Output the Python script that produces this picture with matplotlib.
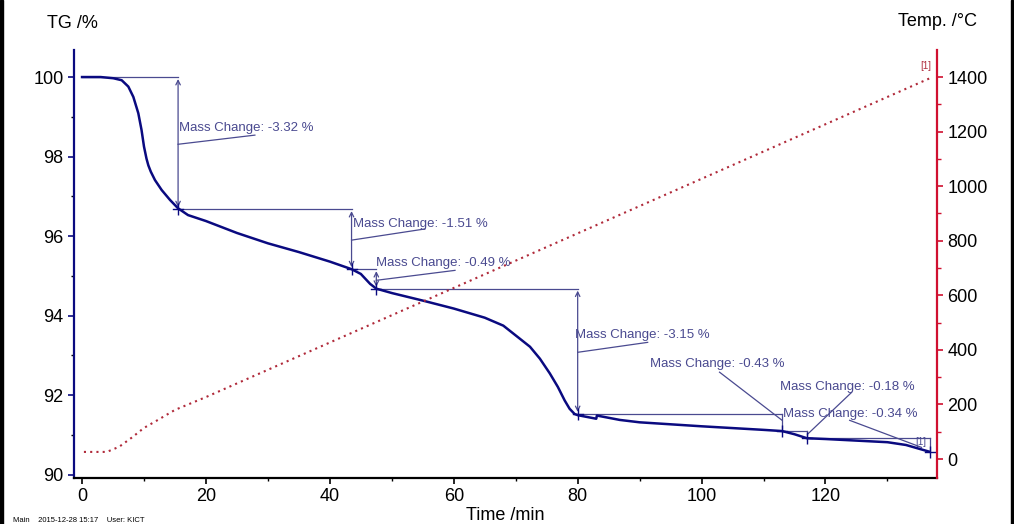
import matplotlib
matplotlib.use("Agg")
import matplotlib.pyplot as plt
from matplotlib.ticker import MultipleLocator
from matplotlib.patches import Rectangle

plt.rcParams['font.family'] = ['Liberation Sans', 'DejaVu Sans']

# ---- data ----
tg_time = [0, 3, 5.05, 6.4, 7.47, 8.28, 9.08, 9.6, 10.0, 10.4, 10.7, 11.1, 11.77, 12.85, 14.2,
           15.5, 17.1, 20, 25, 30, 35, 40, 43.5, 45, 46.5, 47.5, 50, 55, 60, 65, 68,
           70.6, 72.3, 73.9, 75.5, 76.8, 77.9, 78.7, 79.5, 80, 83.0, 83.1, 86.8, 90,
           100, 110, 113, 115, 117, 120, 125, 130, 133, 135, 136.8]
tg_mass = [100.0, 100.0, 99.97, 99.92, 99.76, 99.5, 99.09, 98.67, 98.25, 97.95, 97.78,
           97.62, 97.41, 97.16, 96.91, 96.70, 96.53, 96.38, 96.08, 95.82, 95.6, 95.36, 95.17,
           95.05, 94.8, 94.68, 94.57, 94.38, 94.18, 93.95, 93.75, 93.43, 93.22, 92.92,
           92.55, 92.21, 91.87, 91.66, 91.53, 91.50, 91.41, 91.49, 91.38, 91.32, 91.22,
           91.13, 91.10, 91.02, 90.92, 90.90, 90.86, 90.82, 90.75, 90.66, 90.58]

temp_time = [0.3, 4, 6, 8, 10, 12, 15, 20, 40, 80, 120, 136.8]
temp_val = [26, 26, 45, 78, 114, 140, 180, 227, 427, 827, 1227, 1395]

step_times = [0, 15.5, 43.5, 47.5, 80, 113, 117, 136.8]
step_mass = [100.0, 96.68, 95.17, 94.68, 91.53, 91.10, 90.92, 90.58]
step_labels = ["-3.32", "-1.51", "-0.49", "-3.15", "-0.43", "-0.18", "-0.34"]

# label anchor (time, mass) and leader line endpoints
label_pos = [(15.65, 98.72), (43.7, 96.30), (47.4, 95.32), (79.5, 93.51),
             (91.6, 92.78), (112.6, 92.20), (113.1, 91.52)]
leader_a = [(15.5, 98.31), (43.5, 95.90), (47.5, 94.89), (80, 93.08),
            (102.9, 92.58), (124.2, 92.07), (123.9, 91.37)]
leader_b = [(27.9, 98.54), (55.3, 96.18), (60.2, 95.14), (91.3, 93.33),
            (113, 91.37), (117.1, 91.02), (135.5, 90.69)]

W, H = 1014, 524
fig = plt.figure(figsize=(W / 100, H / 100), dpi=100)
ax = fig.add_axes([74 / W, 1 - 478 / H, (937 - 74) / W, (478 - 50) / H])

navy = '#0a0a80'
ann = '#4a4a90'
red = '#d01030'

ax.plot(tg_time, tg_mass, color=navy, lw=1.8, zorder=5)
ax.set_xlim(-1.3, 138)
ax.set_ylim(89.92, 100.68)

# annotations
for i in range(len(step_labels)):
    t0, t1 = step_times[i], step_times[i + 1]
    m0, m1 = step_mass[i], step_mass[i + 1]
    ax.plot([t0, t1], [m0, m0], color=ann, lw=0.9, zorder=3)
    if i < 4:
        ax.annotate('', xy=(t1, m1 + 0.05), xytext=(t1, m0 - 0.05),
                    arrowprops=dict(arrowstyle='<->', color=ann, lw=0.9,
                                    shrinkA=0, shrinkB=0, mutation_scale=8))
    else:
        ax.plot([t1, t1], [m0, m1], color=ann, lw=0.9)
    ax.plot([t1], [m1], marker='|', color=navy, ms=9, mew=1.0, zorder=6)
    ax.plot([t1 - 0.8, t1 + 0.8], [m1, m1], color=navy, lw=1.0, zorder=6)
    lx, ly = label_pos[i]
    ax.text(lx, ly, f"Mass Change: {step_labels[i]} %", color=ann, fontsize=9.5,
            ha='left', va='center')
    ax.plot([leader_a[i][0], leader_b[i][0]], [leader_a[i][1], leader_b[i][1]],
            color=ann, lw=0.9)

ax.text(135.4, 90.83, "[1]", color=ann, fontsize=7, ha='center', va='center')

# spines / ticks
ax.spines['top'].set_visible(False)
ax.spines['right'].set_visible(False)
ax.spines['left'].set_color(navy)
ax.spines['left'].set_linewidth(1.6)
ax.spines['bottom'].set_color('black')
ax.spines['bottom'].set_linewidth(1.6)
ax.set_yticks([90, 92, 94, 96, 98, 100])
ax.yaxis.set_minor_locator(MultipleLocator(1))
ax.set_xticks([0, 20, 40, 60, 80, 100, 120])
ax.xaxis.set_minor_locator(MultipleLocator(10))
ax.tick_params(axis='both', which='major', labelsize=13, length=4, width=1.2, direction='out')
ax.tick_params(axis='both', which='minor', length=2.5, width=1.0, direction='out')
ax.tick_params(axis='y', colors=navy, labelcolor='black')
ax.set_xlabel("Time /min", fontsize=13, labelpad=1)

ax2 = ax.twinx()
ax2.plot(temp_time, temp_val, color='#b02a3a', lw=1.5, ls=(0, (1, 2)), zorder=2)
ax2.set_ylim(-69.6, 1499)
ax2.set_yticks([0, 200, 400, 600, 800, 1000, 1200, 1400])
ax2.yaxis.set_minor_locator(MultipleLocator(100))
for s in ['top', 'left', 'bottom']:
    ax2.spines[s].set_visible(False)
ax2.spines['right'].set_color(red)
ax2.spines['right'].set_linewidth(1.6)
ax2.tick_params(axis='y', which='major', labelsize=13, length=4, width=1.2, colors=red, labelcolor='black')
ax2.tick_params(axis='y', which='minor', length=3, width=1.0, colors=red)
ax2.text(136.2, 1440, "[1]", color='#b03040', fontsize=7, ha='center', va='center')

fig.text(47 / W, 1 - 23 / H, "TG /%", fontsize=13, ha='left', va='center')
fig.text(977 / W, 1 - 22 / H, "Temp. /°C", fontsize=13, ha='right', va='center')
fig.text(13 / W, 1 - 521 / H, "Main    2015-12-28 15:17    User: KICT", fontsize=5.5,
         ha='left', va='center')

# outer frame lines
fig.patches.append(Rectangle((0, 0), 3 / W, 1, transform=fig.transFigure, color='black'))
fig.patches.append(Rectangle((1011 / W, 0), 2 / W, 1, transform=fig.transFigure, color='black'))

fig.savefig("out.png", dpi=100)
